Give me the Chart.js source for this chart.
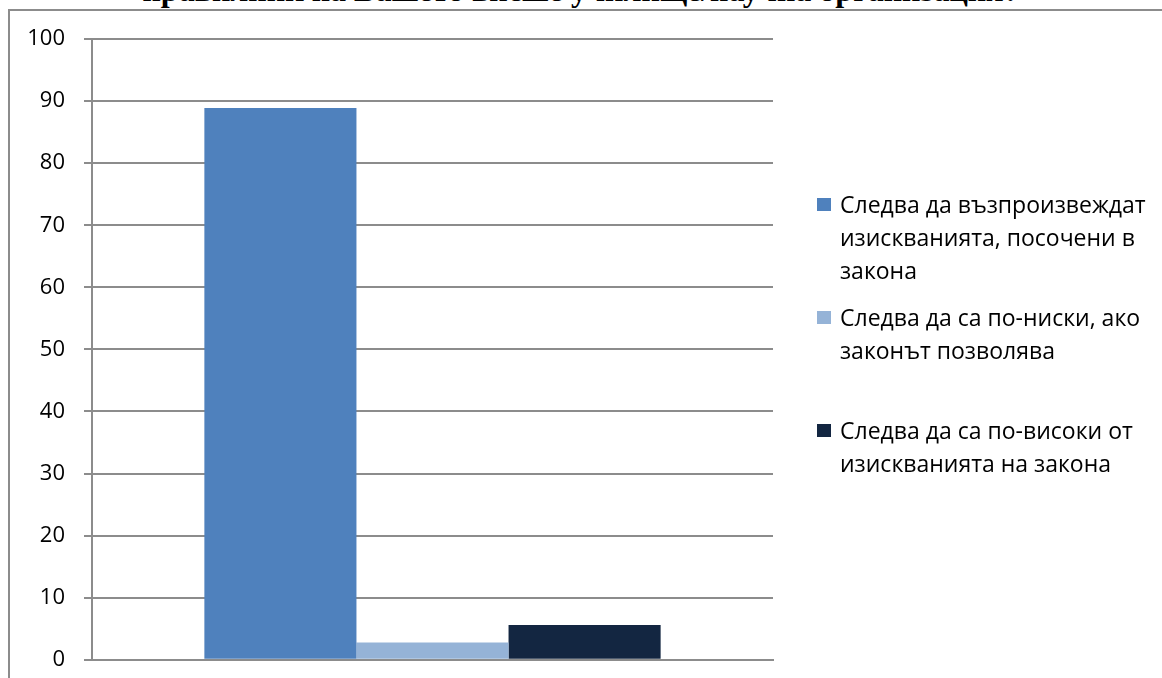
<!DOCTYPE html>
<html lang="bg">
<head>
<meta charset="utf-8">
<title>Изисквания за академични длъжности</title>
<script src="https://cdn.jsdelivr.net/npm/chart.js@4.4.1/dist/chart.umd.min.js"></script>
<style>
  html, body { margin: 0; padding: 0; background: #fff; overflow: hidden; }
  #wrap { position: relative; width: 1162px; height: 678px; overflow: hidden; }
  #frame { position: absolute; left: 8px; top: 9px; width: 1170px; height: 690px;
           border-top: 2px solid #8c8c8c; border-left: 2px solid #8c8c8c; box-sizing: border-box; }
  #title { position: absolute; left: 0; width: 1162px; top: -26px; text-align: center;
           font-family: "Liberation Serif", "DejaVu Serif", serif; font-weight: bold;
           font-size: 32px; line-height: 33px; color: #000; white-space: nowrap; }
  #chart { position: absolute; left: 0; top: 0; }
  #legend { position: absolute; left: 817px; top: 188px; }
  .item { height: 113px; display: flex; align-items: flex-start; }
  .swatch { width: 14px; height: 13px; margin-top: 10px; margin-right: 9px; flex: none; }
  .text { font-family: "Open Sans", "Noto Sans", sans-serif; font-size: 23px; line-height: 33px; color: #000; white-space: nowrap; }
</style>
</head>
<body>
<div id="wrap">
  <div id="title"></div>
  <div id="frame"></div>
  <canvas id="chart" width="1162" height="692"></canvas>
  <div id="legend"></div>
</div>
<script>
// Chart text
const titleText = "правилник на Вашето висше училище/научна организация?";

// One category, three answers (percent of respondents)
const categories = [""];
const seriesLines = [
  ["Следва да възпроизвеждат", "изискванията, посочени в", "закона"],
  ["Следва да са по-ниски, ако", "законът позволява"],
  ["Следва да са по-високи от", "изискванията на закона"]
];
const seriesValues = [88.9, 2.8, 5.6];
const seriesColors = ["#4F81BD", "#95B3D7", "#132641"];
const yTicks = [0, 10, 20, 30, 40, 50, 60, 70, 80, 90, 100];

document.getElementById("title").textContent = titleText;

const gridColor = "#8c8c8c";

const datasets = seriesLines.map((lines, i) => ({
  label: lines.join(" "),
  data: [seriesValues[i]],
  backgroundColor: seriesColors[i],
  borderWidth: 0,
  categoryPercentage: 0.67,
  barPercentage: 1.0
}));

new Chart(document.getElementById("chart"), {
  type: "bar",
  data: { labels: categories, datasets },
  options: {
    responsive: false,
    animation: false,
    devicePixelRatio: 1,
    layout: { padding: { left: 0, top: 39, right: 389, bottom: 6 } },
    plugins: { legend: { display: false }, tooltip: { enabled: false }, title: { display: false } },
    scales: {
      x: {
        ticks: { display: false },
        grid: { display: false, drawTicks: false },
        border: { display: true, color: gridColor, width: 2 },
        afterFit: (s) => { s.height = 0; }
      },
      y: {
        min: yTicks[0],
        max: yTicks[yTicks.length - 1],
        afterBuildTicks: (s) => { s.ticks = yTicks.map(v => ({ value: v })); },
        ticks: {
          color: "#000",
          padding: 19,
          font: { family: "'Open Sans', 'Noto Sans', sans-serif", size: 22 }
        },
        grid: { color: gridColor, lineWidth: 2, tickLength: 8, drawTicks: true },
        border: { display: true, color: gridColor, width: 2 },
        afterFit: (s) => { s.width = 92; }
      }
    }
  }
});

// Legend built from the same series lists
const legend = document.getElementById("legend");
seriesLines.forEach((lines, i) => {
  const item = document.createElement("div");
  item.className = "item";
  const sw = document.createElement("div");
  sw.className = "swatch";
  sw.style.background = seriesColors[i];
  const tx = document.createElement("div");
  tx.className = "text";
  lines.forEach((ln, k) => {
    if (k) tx.appendChild(document.createElement("br"));
    tx.appendChild(document.createTextNode(ln));
  });
  item.appendChild(sw);
  item.appendChild(tx);
  legend.appendChild(item);
});
</script>
</body>
</html>
